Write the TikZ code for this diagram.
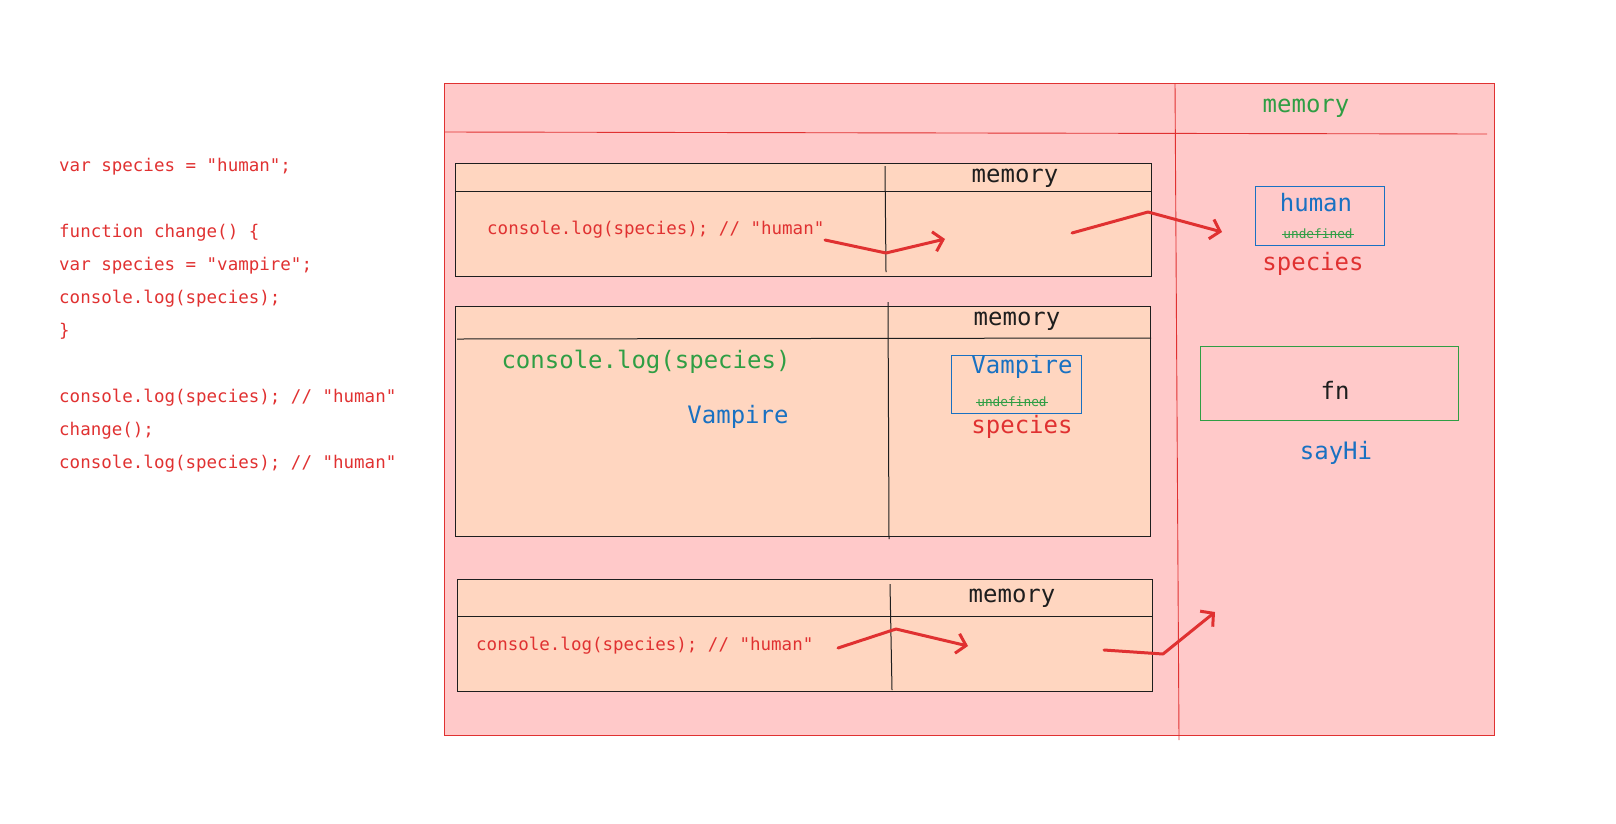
\documentclass[tikz,border=0pt]{standalone}
\usepackage{fontspec}
\newfontfamily\mono{DejaVu Sans Mono}
\usetikzlibrary{arrows.meta}
\definecolor{exred}{HTML}{E03131}
\definecolor{exgreen}{HTML}{2F9E44}
\definecolor{exblue}{HTML}{1971C2}
\definecolor{expink}{HTML}{FFC9C9}
\definecolor{expeach}{HTML}{FFD6C0}
\definecolor{exdark}{HTML}{1E1E1E}
\tikzset{
  frame/.style={draw=exred, line width=0.9pt},
  ctxbox/.style={draw=exdark, fill=expeach, line width=1pt},
  ctxline/.style={draw=exdark, line width=1pt},
  valbox/.style={draw=exblue, line width=1pt},
  fnbox/.style={draw=exgreen, line width=1pt},
  codetxt/.style={font=\mono\fontsize{17.5}{21}\selectfont, text=exred, anchor=west, inner sep=0pt},
  bigtxt/.style={font=\mono\fontsize{24}{28}\selectfont, inner sep=0pt},
  tinytxt/.style={font=\mono\fontsize{12.8}{15}\selectfont, text=exgreen, inner sep=0pt},
  flow/.style={draw=exred, line width=3pt, line cap=round, line join=round, -{Straight Barb[length=9pt,width=20pt,line width=3pt]}},
}
\newcommand{\strike}[1]{\draw[exgreen, line width=1pt] ([xshift=-1pt]#1.west) -- ([xshift=1pt]#1.east);}
\begin{document}
\begin{tikzpicture}[x=1pt,y=-1pt]
\useasboundingbox (0,0) rectangle (1616,823);
% outer frame
\path[fill=expink] (444,83) rectangle (1494,735);
\draw[frame] (444,83) -- (1494,83) -- (1494,735) -- (444,735) -- cycle;
\draw[frame] (444,132) -- (1487,134);
\draw[frame] (1175,83) -- (1179,740);
\node[bigtxt, text=exgreen] (gmem) at (1306,108) {memory};

% left code
\node[codetxt] (c1) at (59,167) {var species = "human";};
\node[codetxt] (c2) at (59,233) {function change() \{};
\node[codetxt] (c3) at (59,266) {var species = "vampire";};
\node[codetxt] (c4) at (59,299) {console.log(species);};
\node[codetxt] (c5) at (59,331) {\}};
\node[codetxt] (c6) at (59,398) {console.log(species); // "human"};
\node[codetxt] (c7) at (59,431) {change();};
\node[codetxt] (c8) at (59,464) {console.log(species); // "human"};

% context box 1
\draw[ctxbox] (455,163) rectangle (1151,276);
\draw[ctxline] (455,191) -- (1151,191);
\draw[ctxline] (885,166) -- (886,272);
\node[bigtxt, text=exdark] (m1) at (1015,178) {memory};
\node[codetxt] (t1) at (487,230) {console.log(species); // "human"};
\coordinate (a1s) at (825,240);
\coordinate (a1m) at (886,253);
\coordinate (a1e) at (945,239);
\draw[flow] (a1s) -- (a1m) -- (a1e);
\coordinate (a2s) at (1072,233);
\coordinate (a2m) at (1148,212);

% global memory: human
\draw[valbox] (1255,186) rectangle (1384,245);
\node[bigtxt, text=exblue] (human) at (1316,203) {human};
\node[tinytxt] (u1) at (1318,234) {undefined};
\strike{u1}
\node[bigtxt, text=exred] (sp1) at (1313,264) {species};
\coordinate (a2e) at (1222,232);
\draw[flow] (a2s) -- (a2m) -- (a2e);

% context box 2
\draw[ctxbox] (455,306) rectangle (1150,536);
\draw[ctxline] (457,339) -- (1151,338);
\draw[ctxline] (888,302) -- (889,539);
\node[bigtxt, text=exdark] (m2) at (1017,321) {memory};
\node[bigtxt, text=exgreen] (cl) at (646,362) {console.log(species)};
\node[bigtxt, text=exblue] (vout) at (738,417) {Vampire};
\draw[valbox] (951,355) rectangle (1081,413);
\node[bigtxt, text=exblue] (vamp) at (1022,367) {Vampire};
\node[tinytxt] (u2) at (1012,402) {undefined};
\strike{u2}
\node[bigtxt, text=exred] (sp2) at (1022,427) {species};

% context box 3
\draw[ctxbox] (457,579) rectangle (1152,691);
\draw[ctxline] (457,616) -- (1152,616);
\draw[ctxline] (890,584) -- (892,690);
\node[bigtxt, text=exdark] (m3) at (1012,598) {memory};
\node[codetxt] (t3) at (476,646) {console.log(species); // "human"};
\coordinate (a3s) at (838,648);
\coordinate (a3m) at (896,629);
\coordinate (a3e) at (968,646);
\draw[flow] (a3s) -- (a3m) -- (a3e);
\coordinate (a4s) at (1104,650);
\coordinate (a4m) at (1163,654);
\coordinate (a4e) at (1215,612);
\draw[flow] (a4s) -- (a4m) -- (a4e);

% fn box
\draw[fnbox] (1200,346) rectangle (1458,420);
\node[bigtxt, text=exdark] (fn) at (1335,390) {fn};
\node[bigtxt, text=exblue] (sayhi) at (1336,453) {sayHi};
\end{tikzpicture}
\end{document}
